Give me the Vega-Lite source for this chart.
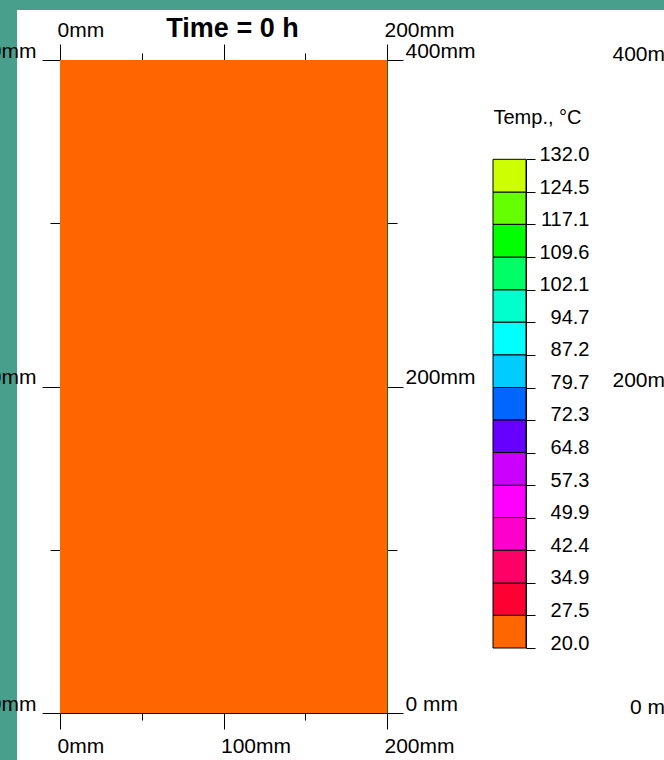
{
  "$schema": "https://vega.github.io/schema/vega-lite/v6.json",
  "width": 647,
  "height": 750,
  "padding": {"left": 17, "top": 10, "right": 0, "bottom": 0},
  "autosize": {"type": "none"},
  "background": "#48a08c",
  "config": {
    "view": {"fill": "white", "stroke": null},
    "font": "Liberation Sans",
    "axis": {
      "grid": false,
      "labelFont": "Liberation Sans",
      "labelFontSize": 21,
      "labelColor": "black",
      "tickColor": "black",
      "domainColor": "black",
      "labelFlush": false,
      "labelOverlap": false,
      "labelBound": false,
      "titleFont": "Liberation Sans",
      "titleColor": "black",
      "tickWidth": 1,
      "domainWidth": 1
    }
  },
  "layer": [
    {
      "data": {"values": [{"x0": 0, "x1": 200, "y0": 0, "y1": 400, "temp": 20}]},
      "mark": {"type": "rect"},
      "encoding": {
        "x": {
          "field": "x0", "type": "quantitative",
          "scale": {"domain": [0, 200], "range": [43, 370], "nice": false, "zero": false},
          "axis": {
            "orient": "bottom", "offset": -47, "values": [0, 50, 100, 150, 200], "title": null,
            "labelExpr": "datum.value % 100 === 0 ? datum.value + 'mm' : ''",
            "labelAlign": "left", "labelBaseline": "alphabetic", "labelPadding": 23, "labelOffset": -3,
            "tickSize": {"condition": {"test": "datum.value % 100 === 0", "value": 16}, "value": 7}
          }
        },
        "x2": {"field": "x1"},
        "y": {
          "field": "y0", "type": "quantitative",
          "scale": {"domain": [0, 400], "range": [703, 50], "nice": false, "zero": false},
          "axis": {
            "orient": "left", "offset": -43, "values": [0, 100, 200, 300, 400], "title": null,
            "labelExpr": "datum.value % 200 === 0 ? datum.value + 'mm' : ''",
            "labelAlign": "right", "labelBaseline": "alphabetic", "labelPadding": 6, "labelOffset": -3,
            "tickSize": {"condition": {"test": "datum.value % 200 === 0", "value": 18}, "value": 10},
            "domainColor": "#f02a10"
          }
        },
        "y2": {"field": "y1"},
        "color": {
          "field": "temp", "type": "quantitative",
          "scale": {
            "type": "threshold",
            "domain": [27.5, 34.9, 42.4, 49.9, 57.3, 64.8, 72.3, 79.7, 87.2, 94.7, 102.1, 109.6, 117.1, 124.5],
            "range": ["#ff6600", "#ff0033", "#ff0066", "#ff00cc", "#ff00ff", "#cc00ff", "#6600ff", "#0066ff", "#00ccff", "#00ffff", "#00ffcc", "#00ff66", "#00ff00", "#66ff00", "#ccff00"]
          },
          "legend": null
        }
      }
    },
    {
      "data": {"values": [{"x0": 0, "x1": 200, "y0": 0, "y1": 400, "temp": 20}]},
      "mark": {"type": "rect"},
      "encoding": {
        "x": {
          "field": "x0", "type": "quantitative",
          "scale": {"domain": [0, 200], "range": [43, 370], "nice": false, "zero": false},
          "axis": {
            "orient": "top", "offset": -50, "values": [0, 50, 100, 150, 200],
            "labelExpr": "datum.value === 0 || datum.value === 200 ? datum.value + 'mm' : ''",
            "labelAlign": "left", "labelBaseline": "alphabetic", "labelPadding": 8, "labelOffset": -3,
            "tickSize": {"condition": {"test": "datum.value % 100 === 0", "value": 16}, "value": 7},
            "title": "Time = 0 h", "titleFontSize": 27, "titleFontWeight": "bold",
            "titleX": 215, "titleY": -24, "titleAlign": "center", "titleBaseline": "alphabetic"
          }
        },
        "x2": {"field": "x1"},
        "y": {
          "field": "y0", "type": "quantitative",
          "scale": {"domain": [0, 400], "range": [703, 50], "nice": false, "zero": false},
          "axis": {
            "orient": "right", "offset": -277, "values": [0, 100, 200, 300, 400], "title": null,
            "labelExpr": "datum.value === 0 ? '0 mm' : (datum.value % 200 === 0 ? datum.value + 'mm' : '')",
            "labelAlign": "left", "labelBaseline": "alphabetic", "labelPadding": 2, "labelOffset": -3,
            "tickSize": {"condition": {"test": "datum.value % 200 === 0", "value": 16}, "value": 10},
            "domainColor": "#3d5a00"
          }
        },
        "y2": {"field": "y1"},
        "color": {
          "field": "temp", "type": "quantitative",
          "scale": {
            "type": "threshold",
            "domain": [27.5, 34.9, 42.4, 49.9, 57.3, 64.8, 72.3, 79.7, 87.2, 94.7, 102.1, 109.6, 117.1, 124.5],
            "range": ["#ff6600", "#ff0033", "#ff0066", "#ff00cc", "#ff00ff", "#cc00ff", "#6600ff", "#0066ff", "#00ccff", "#00ffff", "#00ffcc", "#00ff66", "#00ff00", "#66ff00", "#ccff00"]
          },
          "legend": null
        }
      }
    },
    {
      "data": {"values": [
        {"lo": 20.0, "hi": 27.5}, {"lo": 27.5, "hi": 34.9}, {"lo": 34.9, "hi": 42.4},
        {"lo": 42.4, "hi": 49.9}, {"lo": 49.9, "hi": 57.3}, {"lo": 57.3, "hi": 64.8},
        {"lo": 64.8, "hi": 72.3}, {"lo": 72.3, "hi": 79.7}, {"lo": 79.7, "hi": 87.2},
        {"lo": 87.2, "hi": 94.7}, {"lo": 94.7, "hi": 102.1}, {"lo": 102.1, "hi": 109.6},
        {"lo": 109.6, "hi": 117.1}, {"lo": 117.1, "hi": 124.5}, {"lo": 124.5, "hi": 132.0}
      ]},
      "mark": {"type": "rect", "stroke": "black", "strokeWidth": 1},
      "encoding": {
        "x": {"datum": 0, "type": "quantitative", "scale": {"domain": [0, 1], "range": [476, 509], "nice": false, "zero": false}, "axis": null},
        "x2": {"datum": 1},
        "y": {
          "field": "lo", "type": "quantitative",
          "scale": {"domain": [20, 132], "range": [638, 149.3], "nice": false, "zero": false},
          "axis": {
            "orient": "right", "offset": -138,
            "values": [20, 27.5, 34.9, 42.4, 49.9, 57.3, 64.8, 72.3, 79.7, 87.2, 94.7, 102.1, 109.6, 117.1, 124.5, 132],
            "format": ".1f", "tickSize": 9, "labelPadding": 54, "labelAlign": "right",
            "labelBaseline": "alphabetic", "labelOffset": 1, "labelFontSize": 20,
            "title": "Temp., °C", "titleAngle": 0, "titleX": -33, "titleY": 113,
            "titleAlign": "left", "titleBaseline": "alphabetic", "titleFontSize": 20, "titleFontWeight": "normal"
          }
        },
        "y2": {"field": "hi"},
        "color": {
          "field": "lo", "type": "quantitative",
          "scale": {
            "type": "threshold",
            "domain": [27.5, 34.9, 42.4, 49.9, 57.3, 64.8, 72.3, 79.7, 87.2, 94.7, 102.1, 109.6, 117.1, 124.5],
            "range": ["#ff6600", "#ff0033", "#ff0066", "#ff00cc", "#ff00ff", "#cc00ff", "#6600ff", "#0066ff", "#00ccff", "#00ffff", "#00ffcc", "#00ff66", "#00ff00", "#66ff00", "#ccff00"]
          },
          "legend": null
        }
      }
    },
    {
      "data": {"values": [{"x0": 0, "x1": 200, "y0": 0, "y1": 400, "temp": 20}]},
      "mark": {"type": "rect"},
      "encoding": {
        "x": {"field": "x0", "type": "quantitative", "scale": {"domain": [0, 200], "range": [43, 370], "nice": false, "zero": false}, "axis": null},
        "x2": {"field": "x1"},
        "y": {
          "field": "y0", "type": "quantitative",
          "scale": {"domain": [0, 400], "range": [703, 50], "nice": false, "zero": false},
          "axis": {
            "orient": "left", "offset": -689, "values": [0, 200, 400], "title": null,
            "labelExpr": "datum.value === 0 ? '0 mm' : datum.value + 'mm'",
            "labelAlign": "right", "labelBaseline": "alphabetic", "labelPadding": 6, "tickSize": 18
          }
        },
        "y2": {"field": "y1"},
        "color": {
          "field": "temp", "type": "quantitative",
          "scale": {
            "type": "threshold",
            "domain": [27.5, 34.9, 42.4, 49.9, 57.3, 64.8, 72.3, 79.7, 87.2, 94.7, 102.1, 109.6, 117.1, 124.5],
            "range": ["#ff6600", "#ff0033", "#ff0066", "#ff00cc", "#ff00ff", "#cc00ff", "#6600ff", "#0066ff", "#00ccff", "#00ffff", "#00ffcc", "#00ff66", "#00ff00", "#66ff00", "#ccff00"]
          },
          "legend": null
        }
      }
    }
  ],
  "resolve": {
    "scale": {"x": "independent", "y": "independent"},
    "axis": {"x": "independent", "y": "independent"}
  }
}
